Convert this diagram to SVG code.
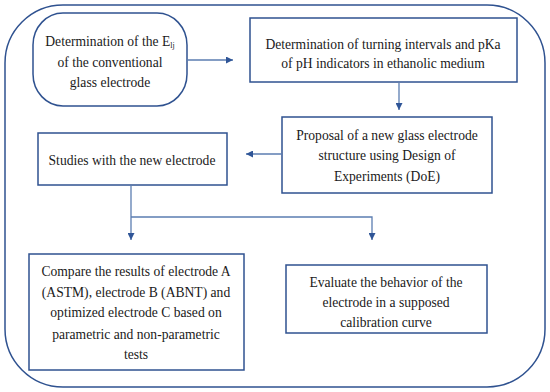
<svg xmlns="http://www.w3.org/2000/svg" width="550" height="392" viewBox="0 0 550 392">
<defs>
<marker id="ah" viewBox="0 0 10 10" refX="10" refY="5" markerWidth="7" markerHeight="7" markerUnits="userSpaceOnUse" orient="auto">
<path d="M0,0 L10,5 L0,10 z" fill="#2F5597"/>
</marker>
<style>
.box{fill:#fff;stroke:#2F5290;stroke-width:1.5}
.frame{fill:none;stroke:#2F5290;stroke-width:1.5}
.t{font-size:13.6px;fill:#1a1a1a;text-anchor:middle}
.c{fill:none;stroke:#5B7DB1;stroke-width:1.3}
</style>
</defs>
<rect class="frame" x="5" y="5" width="540" height="382" rx="58" ry="58"/>
<g font-family="'Liberation Serif', 'DejaVu Serif', serif">
<g id="n1">
<rect class="box" x="33" y="13" width="154" height="93" rx="30" ry="32"/>
<text class="t" x="110" y="46">Determination of the E<tspan font-size="8" dy="2">lj</tspan></text>
<text class="t" x="110" y="67">of the conventional</text>
<text class="t" x="110" y="87">glass electrode</text>
</g>
<g id="n2">
<rect class="box" x="250" y="18" width="267" height="64"/>
<text class="t" x="383" y="49">Determination of turning intervals and pKa</text>
<text class="t" x="383" y="68">of pH indicators in ethanolic medium</text>
</g>
<g id="n3">
<rect class="box" x="282" y="117" width="210" height="76"/>
<text class="t" x="387" y="140">Proposal of a new glass electrode</text>
<text class="t" x="387" y="160">structure using Design of</text>
<text class="t" x="387" y="181">Experiments (DoE)</text>
</g>
<g id="n4">
<rect class="box" x="38" y="133" width="189" height="52"/>
<text class="t" x="132" y="165">Studies with the new electrode</text>
</g>
<g id="n5">
<rect class="box" x="29" y="254" width="215" height="116"/>
<text class="t" x="136" y="276">Compare the results of electrode A</text>
<text class="t" x="136" y="297">(ASTM), electrode B (ABNT) and</text>
<text class="t" x="136" y="317">optimized electrode C based on</text>
<text class="t" x="136" y="339">parametric and non-parametric</text>
<text class="t" x="136" y="359">tests</text>
</g>
<g id="n6">
<rect class="box" x="286" y="265" width="201" height="68"/>
<text class="t" x="386" y="287">Evaluate the behavior of the</text>
<text class="t" x="386" y="307">electrode in a supposed</text>
<text class="t" x="386" y="327">calibration curve</text>
</g>
</g>
<g id="connectors">
<line class="c" x1="187" y1="60" x2="233" y2="60" marker-end="url(#ah)"/>
<line class="c" x1="399" y1="83" x2="399" y2="110" marker-end="url(#ah)"/>
<line class="c" x1="282" y1="154" x2="246" y2="154" marker-end="url(#ah)"/>
<line class="c" x1="131" y1="185" x2="131" y2="240" marker-end="url(#ah)"/>
<polyline class="c" points="131,217 372,217 372,240" marker-end="url(#ah)"/>
</g>
</svg>
